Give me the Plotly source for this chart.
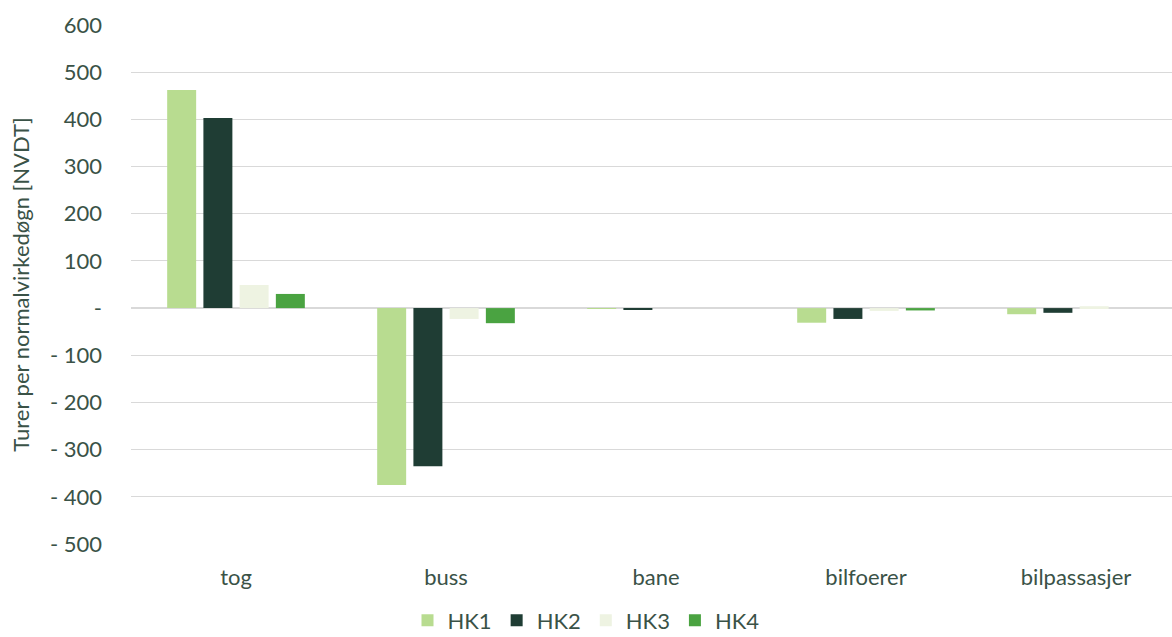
import plotly.graph_objects as go

categories = ["tog", "buss", "bane", "bilfoerer", "bilpassasjer"]
series_names = ["HK1", "HK2", "HK3", "HK4"]
hk1 = [462, -375, -1, -31, -13]
hk2 = [403, -335, -2, -23, -10]
hk3 = [49, -23, 0, -6, 4]
hk4 = [30, -32, 0, -5, 0]
colors = ["#b8dc90", "#1f3d34", "#eef3e2", "#4aa341"]
tick_vals = [600, 500, 400, 300, 200, 100, 0, -100, -200, -300, -400, -500]
tick_text = ["600", "500", "400", "300", "200", "100", "-", "- 100", "- 200", "- 300", "- 400", "- 500"]

text_color = "#3a5247"
font_family = "Lato, 'Open Sans', sans-serif"

fig = go.Figure()
for name, vals, col in zip(series_names, [hk1, hk2, hk3, hk4], colors):
    fig.add_trace(go.Bar(x=categories, y=vals, name=name, marker=dict(color=col, line=dict(width=0))))

fig.update_layout(
    width=1172, height=637,
    margin=dict(l=131, r=0, t=25, b=93, autoexpand=False),
    paper_bgcolor="white", plot_bgcolor="white",
    barmode="group", bargap=0.31, bargroupgap=0.2,
    font=dict(family=font_family, color=text_color, size=22),
    showlegend=True,
    legend=dict(orientation="h", x=0.5, xref="container", xanchor="center",
                y=0.026, yref="container", yanchor="middle",
                font=dict(size=22, color=text_color), itemwidth=30, tracegroupgap=0),
    xaxis=dict(range=[-0.5, 4.457], showgrid=False, zeroline=False, showline=False,
               ticks="", ticklabelstandoff=18, automargin=False,
               tickfont=dict(size=22, color=text_color)),
    yaxis=dict(range=[-500, 600], tickvals=tick_vals, ticktext=tick_text,
               showgrid=True, gridcolor="#d9d9d9", gridwidth=1,
               zeroline=True, zerolinecolor="#d9d9d9", zerolinewidth=2,
               showline=False, ticks="", ticklabelstandoff=28, automargin=False,
               tickfont=dict(size=22, color=text_color),
               title=dict(text="Turer per normalvirkedøgn [NVDT]", font=dict(size=22, color=text_color), standoff=14)),
)

fig.write_html("out.html")
